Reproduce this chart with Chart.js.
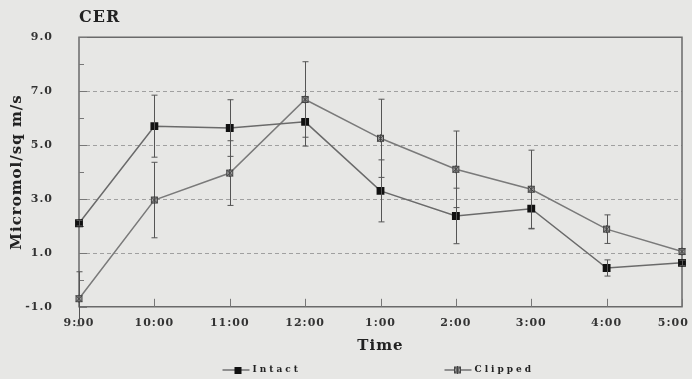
<!DOCTYPE html>
<html>
<head>
<meta charset="utf-8">
<script src="https://cdn.jsdelivr.net/npm/chart.js@4/dist/chart.umd.min.js"></script>
<style>
  html, body { margin: 0; padding: 0; background: #e7e7e5; }
  #wrap { width: 692px; height: 379px; }
</style>
</head>
<body>
<div id="wrap"><canvas id="cer"></canvas></div>
<script>
  const times = ['9:00', '10:00', '11:00', '12:00', '1:00', '2:00', '3:00', '4:00', '5:00'];
  const intact = [2.1, 5.7, 5.63, 5.86, 3.3, 2.37, 2.64, 0.44, 0.63];
  const intactErr = [0.1, 1.15, 1.05, 0.9, 1.15, 1.03, 0.75, 0.3, 0.1];
  const clipped = [-0.7, 2.96, 3.96, 6.69, 5.25, 4.1, 3.36, 1.88, 1.05];
  const clippedErr = [1.0, 1.4, 1.2, 1.4, 1.45, 1.42, 1.45, 0.53, 0.1];
  const yLabels = [-1, 1, 3, 5, 7, 9];
  const dashedAt = [1, 3, 5, 7];
  const minorAt = [0, 2, 4, 6, 8];
  const seriesNames = ['Intact', 'Clipped'];

  const serif = '"DejaVu Serif", "Liberation Serif", serif';

  function drawStar(ctx, px, py) {
    ctx.save();
    ctx.strokeStyle = '#444';
    ctx.fillStyle = '#999';
    ctx.lineWidth = 1;
    ctx.fillRect(px - 3, py - 3, 6, 6);
    ctx.strokeRect(px - 3, py - 3, 6, 6);
    ctx.beginPath();
    ctx.moveTo(px - 3, py - 3); ctx.lineTo(px + 3, py + 3);
    ctx.moveTo(px + 3, py - 3); ctx.lineTo(px - 3, py + 3);
    ctx.moveTo(px, py - 4); ctx.lineTo(px, py + 4);
    ctx.stroke();
    ctx.restore();
  }

  const framePlugin = {
    id: 'frame',
    beforeLayout(chart) {
      chart.ctx.letterSpacing = '1px';
    },
    beforeDraw(chart) {
      const { ctx, chartArea: a, scales: { x, y } } = chart;
      ctx.letterSpacing = '1px';
      ctx.save();
      ctx.fillStyle = '#e7e7e5';
      ctx.fillRect(0, 0, chart.width, chart.height);
      // dashed grid lines
      ctx.strokeStyle = '#a0a0a0';
      ctx.lineWidth = 1;
      ctx.setLineDash([4, 3]);
      dashedAt.forEach(v => {
        const py = Math.round(y.getPixelForValue(v)) + 0.5;
        ctx.beginPath(); ctx.moveTo(a.left, py); ctx.lineTo(a.right, py); ctx.stroke();
      });
      ctx.setLineDash([]);
      // frame
      ctx.strokeStyle = '#6a6a6a';
      ctx.lineWidth = 1.5;
      ctx.beginPath();
      ctx.moveTo(a.left, a.top); ctx.lineTo(a.right, a.top);
      ctx.lineTo(a.right, a.bottom); ctx.lineTo(a.left, a.bottom);
      ctx.closePath(); ctx.stroke();
      // inside ticks
      ctx.lineWidth = 1;
      ctx.strokeStyle = '#777';
      yLabels.forEach(v => {
        const py = Math.round(y.getPixelForValue(v)) + 0.5;
        ctx.beginPath(); ctx.moveTo(a.left, py); ctx.lineTo(a.left + 8, py); ctx.stroke();
      });
      minorAt.forEach(v => {
        const py = Math.round(y.getPixelForValue(v)) + 0.5;
        ctx.beginPath(); ctx.moveTo(a.left, py); ctx.lineTo(a.left + 5, py); ctx.stroke();
      });
      times.forEach((t, i) => {
        const px = Math.round(x.getPixelForValue(i)) + 0.5;
        ctx.beginPath(); ctx.moveTo(px, a.bottom); ctx.lineTo(px, a.bottom - 8); ctx.stroke();
      });
      ctx.restore();
    },
    afterDatasetsDraw(chart) {
      const { ctx, scales: { x, y } } = chart;
      const sets = [[intact, intactErr], [clipped, clippedErr]];
      ctx.save();
      ctx.strokeStyle = '#555';
      ctx.lineWidth = 1;
      sets.forEach(([vals, errs]) => {
        vals.forEach((v, i) => {
          const px = Math.round(x.getPixelForValue(i)) + 0.5;
          const hi = y.getPixelForValue(v + errs[i]);
          const lo = y.getPixelForValue(v - errs[i]);
          ctx.beginPath();
          ctx.moveTo(px, hi); ctx.lineTo(px, lo);
          ctx.moveTo(px - 3, hi); ctx.lineTo(px + 3, hi);
          ctx.moveTo(px - 3, lo); ctx.lineTo(px + 3, lo);
          ctx.stroke();
        });
      });
      // clipped markers drawn on top
      clipped.forEach((v, i) => drawStar(ctx, x.getPixelForValue(i), y.getPixelForValue(v)));
      ctx.restore();
    },
    afterDraw(chart) {
      // legend below the axis title
      const { ctx, chartArea: a } = chart;
      const mid = (a.left + a.right) / 2;
      const starts = [mid - 158, mid + 64];
      const ly = 370;
      ctx.save();
      ctx.font = 'bold 9px ' + serif;
      ctx.letterSpacing = '3px';
      ctx.textBaseline = 'middle';
      seriesNames.forEach((name, i) => {
        const sx = starts[i];
        ctx.strokeStyle = '#555';
        ctx.lineWidth = 1.2;
        ctx.beginPath(); ctx.moveTo(sx, ly); ctx.lineTo(sx + 27, ly); ctx.stroke();
        if (i === 0) {
          ctx.fillStyle = '#111';
          ctx.fillRect(sx + 12, ly - 3, 7, 7);
        } else {
          drawStar(ctx, sx + 13, ly);
        }
        ctx.fillStyle = '#222';
        ctx.fillText(name, sx + 30, ly);
      });
      ctx.restore();
    }
  };

  new Chart(document.getElementById('cer'), {
    type: 'line',
    data: {
      labels: times,
      datasets: [{
        label: seriesNames[0],
        data: intact,
        borderColor: '#6a6a6a',
        borderWidth: 1.5,
        pointStyle: 'rect',
        pointRadius: 4.5,
        pointBackgroundColor: '#111',
        pointBorderColor: '#111',
        tension: 0
      }, {
        label: seriesNames[1],
        data: clipped,
        borderColor: '#7a7a7a',
        borderWidth: 1.5,
        pointRadius: 0,
        tension: 0
      }]
    },
    options: {
      responsive: true,
      maintainAspectRatio: false,
      animation: false,
      layout: { padding: { left: 8, right: 0, top: 4, bottom: 24 } },
      plugins: {
        title: {
          display: true,
          text: 'CER',
          align: 'start',
          fullSize: false,
          color: '#222',
          font: { family: serif, size: 16, weight: 'bold' },
          padding: { top: 4, bottom: 10 }
        },
        legend: { display: false },
        tooltip: { enabled: false }
      },
      scales: {
        x: {
          offset: false,
          grid: { display: false },
          border: { display: false },
          afterFit(scale) { scale.paddingRight = 10; },
          ticks: {
            color: '#333',
            font: { family: serif, size: 11, weight: 'bold' },
            padding: 2,
            maxRotation: 0,
            autoSkip: false,
            // last label sits a little left of its tick, as in the original
            callback: (v, i) => i === times.length - 1 ? times[i] + '\u2007\u2007' : times[i]
          },
          title: {
            display: true,
            text: 'Time',
            color: '#222',
            font: { family: serif, size: 15, weight: 'bold' },
            padding: { top: 5, bottom: 0 }
          }
        },
        y: {
          min: -1,
          max: 9,
          afterBuildTicks(scale) {
            scale.ticks = yLabels.map(v => ({ value: v }));
          },
          afterFit(scale) { scale.width = 71; },
          grid: { display: false },
          border: { display: false },
          ticks: {
            color: '#333',
            font: { family: serif, size: 11, weight: 'bold' },
            padding: 18,
            callback: v => v.toFixed(1)
          },
          title: {
            display: true,
            text: 'Micromol/sq m/s',
            color: '#222',
            font: { family: serif, size: 15, weight: 'bold' },
            padding: { top: 0, bottom: 0 }
          }
        }
      }
    },
    plugins: [framePlugin]
  });
</script>
</body>
</html>
